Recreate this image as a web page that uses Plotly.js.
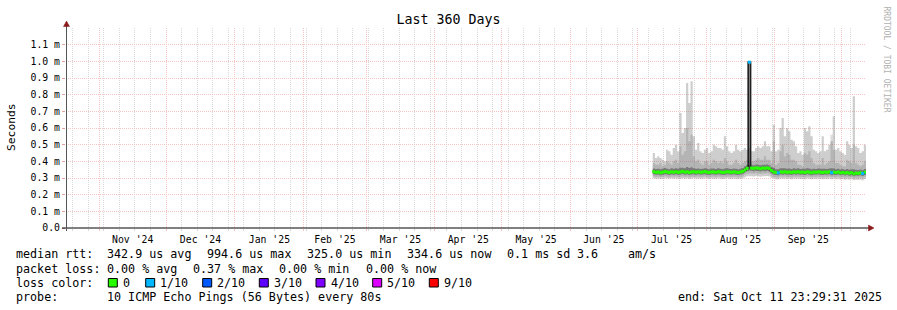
<!DOCTYPE html>
<html><head><meta charset="utf-8">
<script src="https://cdn.plot.ly/plotly-3.0.1.min.js"></script>
<style>html,body{margin:0;padding:0;background:#fff}#chart{width:897px;height:310px}</style>
</head><body><div id="chart"></div>
<script>
// ---------- data (milliseconds) ----------
const rangeStart = '2024-10-16 23:29:31';
const rangeEnd = '2025-10-11 23:29:31';
const firstSampleDay = '2025-07-08';

const medianMs = [
  0.338,0.334,0.336,0.332,0.335,0.339,0.336,0.333,0.337,0.335,
  0.338,0.334,0.336,0.340,0.335,0.337,0.333,0.336,0.338,0.335,
  0.337,0.334,0.336,0.339,0.335,0.333,0.337,0.336,0.334,0.338,
  0.336,0.333,0.335,0.338,0.336,0.334,0.337,0.335,0.333,0.336,0.340,
  0.348,0.358,0.995,0.360,0.357,0.361,0.359,0.356,0.360,0.358,0.361,0.357,
  0.345,0.336,0.333,0.331,0.337,0.335,0.338,0.334,0.336,0.333,0.337,
  0.335,0.338,0.334,0.336,0.333,0.337,0.335,0.332,0.336,0.334,0.337,
  0.335,0.333,0.336,0.334,0.337,0.332,0.335,0.333,0.336,0.331,0.334,
  0.330,0.333,0.329,0.332,0.325,0.330,0.328,0.331,0.327,0.3346
];
const lossTenths = [
  0,0,0,0,0,0,0,0,0,0, 0,0,0,0,0,0,0,0,0,0, 0,0,0,0,0,0,0,0,0,0,
  0,0,0,0,0,0,0,0,0,0,0, 0,0,1,0,0,0,0,0,0,0,0,0,
  0,0,0,1,0,0,0,0,0,0,0, 0,0,0,0,0,0,0,0,0,0,0,
  0,0,0,0,0,1,0,0,0,0,0, 0,0,0,0,0,0,0,0,1,0
];
const pingMaxMs = [
  0.45,0.42,0.43,0.42,0.41,0.40,0.47,0.46,0.44,0.48,
  0.50,0.46,0.69,0.57,0.60,0.87,0.75,0.88,0.55,0.47,
  0.51,0.46,0.45,0.47,0.48,0.45,0.46,0.50,0.49,0.48,
  0.48,0.47,0.55,0.49,0.46,0.45,0.46,0.50,0.47,0.46,0.47,
  0.48,0.47,0.48,0.46,0.46,0.48,0.49,0.48,0.49,0.52,0.49,0.49,
  0.46,0.62,0.46,0.47,0.60,0.66,0.55,0.60,0.58,0.53,0.52,
  0.49,0.45,0.46,0.44,0.60,0.58,0.61,0.55,0.47,0.46,0.45,
  0.46,0.55,0.46,0.47,0.50,0.52,0.67,0.47,0.48,0.46,0.45,
  0.44,0.52,0.50,0.48,0.79,0.49,0.48,0.45,0.46,0.50
];
const pingP90Ms = [
  0.39,0.38,0.38,0.39,0.37,0.38,0.40,0.39,0.38,0.40,
  0.41,0.39,0.49,0.44,0.46,0.60,0.52,0.56,0.43,0.40,
  0.41,0.39,0.38,0.40,0.40,0.38,0.39,0.41,0.40,0.39,
  0.40,0.39,0.42,0.40,0.38,0.38,0.39,0.41,0.39,0.38,0.39,
  0.40,0.41,0.41,0.40,0.40,0.41,0.42,0.41,0.41,0.43,0.41,0.41,
  0.39,0.52,0.38,0.39,0.46,0.50,0.43,0.45,0.44,0.41,0.41,
  0.40,0.38,0.38,0.37,0.45,0.44,0.46,0.42,0.39,0.38,0.38,
  0.38,0.42,0.38,0.39,0.40,0.56,0.47,0.39,0.39,0.38,0.37,
  0.37,0.41,0.40,0.39,0.50,0.39,0.38,0.37,0.38,0.40
];
const pingP75Ms = [
  0.357,0.354,0.356,0.352,0.355,0.360,0.356,0.353,0.358,0.356,
  0.359,0.355,0.362,0.362,0.358,0.366,0.360,0.364,0.359,0.355,
  0.357,0.354,0.356,0.359,0.356,0.353,0.357,0.357,0.354,0.358,
  0.356,0.353,0.357,0.358,0.356,0.354,0.357,0.355,0.353,0.356,0.360,
  0.370,0.378,0.380,0.380,0.377,0.381,0.379,0.376,0.380,0.379,0.381,0.377,
  0.365,0.362,0.353,0.352,0.358,0.358,0.359,0.355,0.357,0.354,0.358,
  0.355,0.358,0.354,0.356,0.356,0.359,0.357,0.353,0.356,0.354,0.357,
  0.355,0.355,0.356,0.354,0.357,0.358,0.357,0.353,0.356,0.351,0.354,
  0.350,0.354,0.350,0.352,0.352,0.350,0.348,0.351,0.347,0.354
];
const pingP25Ms = [
  0.322,0.319,0.321,0.317,0.320,0.323,0.321,0.318,0.322,0.320,
  0.322,0.319,0.321,0.324,0.320,0.322,0.318,0.321,0.322,0.320,
  0.322,0.319,0.321,0.323,0.320,0.318,0.322,0.321,0.319,0.322,
  0.321,0.318,0.320,0.322,0.321,0.319,0.322,0.320,0.318,0.321,0.324,
  0.334,0.341,0.343,0.343,0.340,0.344,0.342,0.339,0.343,0.341,0.344,0.340,
  0.328,0.321,0.318,0.316,0.322,0.320,0.322,0.319,0.321,0.318,0.322,
  0.320,0.322,0.319,0.321,0.318,0.322,0.320,0.317,0.321,0.319,0.322,
  0.320,0.318,0.321,0.319,0.322,0.317,0.320,0.318,0.321,0.316,0.319,
  0.315,0.318,0.314,0.317,0.311,0.315,0.313,0.316,0.312,0.319
];
const pingP10Ms = [
  0.309,0.306,0.308,0.304,0.307,0.310,0.308,0.305,0.309,0.307,
  0.309,0.306,0.308,0.311,0.307,0.309,0.305,0.308,0.309,0.307,
  0.309,0.306,0.308,0.310,0.307,0.305,0.309,0.308,0.306,0.309,
  0.308,0.305,0.307,0.309,0.308,0.306,0.309,0.307,0.305,0.308,0.311,
  0.320,0.326,0.327,0.327,0.325,0.328,0.326,0.324,0.327,0.326,0.328,0.325,
  0.314,0.308,0.305,0.303,0.309,0.307,0.309,0.306,0.308,0.305,0.309,
  0.307,0.309,0.306,0.308,0.305,0.309,0.307,0.304,0.308,0.306,0.309,
  0.307,0.305,0.308,0.306,0.309,0.304,0.307,0.305,0.308,0.303,0.306,
  0.302,0.305,0.301,0.304,0.298,0.302,0.300,0.303,0.299,0.306
];
const pingMinMs = [
  0.298,0.296,0.297,0.294,0.296,0.299,0.297,0.295,0.298,0.296,
  0.297,0.295,0.296,0.299,0.296,0.298,0.294,0.297,0.298,0.296,
  0.297,0.295,0.296,0.298,0.296,0.294,0.297,0.296,0.295,0.298,
  0.296,0.294,0.296,0.298,0.296,0.295,0.297,0.296,0.294,0.296,0.299,
  0.305,0.310,0.311,0.311,0.309,0.312,0.310,0.308,0.311,0.310,0.312,0.309,
  0.300,0.296,0.293,0.292,0.297,0.295,0.297,0.294,0.296,0.293,0.297,
  0.295,0.297,0.294,0.296,0.293,0.297,0.295,0.292,0.296,0.294,0.297,
  0.295,0.293,0.296,0.294,0.297,0.292,0.295,0.293,0.296,0.291,0.294,
  0.290,0.293,0.289,0.292,0.286,0.290,0.288,0.291,0.287,0.294
];

const yTickVals = [0,0.1,0.2,0.3,0.4,0.5,0.6,0.7,0.8,0.9,1.0,1.1];
const yTickText = ['0.0','0.1 m','0.2 m','0.3 m','0.4 m','0.5 m','0.6 m','0.7 m','0.8 m','0.9 m','1.0 m','1.1 m'];

const lossLevels = [0,1,2,3,4,5,9];
const lossLabels = ['0','1/10','2/10','3/10','4/10','5/10','9/10'];
const lossColors = ['#26ff00','#00b8ff','#0059ff','#5e00ff','#7e00ff','#dd00ff','#ff0000'];

const statsRtt = ['median rtt:','342.9 us avg','994.6 us max','325.0 us min','334.6 us now','0.1 ms sd','3.6','am/s'];
const statsLoss = ['packet loss:','0.00 % avg','0.37 % max','0.00 % min','0.00 % now'];
const probeText = ['probe:','10 ICMP Echo Pings (56 Bytes) every 80s','end: Sat Oct 11 23:29:31 2025'];

// ---------- layout helpers (pixel positions) ----------
const PL = 66, PW = 800, PB = 228, PH = 200;
const px = v => (v - PL) / PW;
const py = v => (PB - v) / PH;

function pad(n){return (n<10?'0':'')+n;}
const sampleDays = medianMs.map((_, i) => {
  const p = firstSampleDay.split('-').map(Number);
  const d = new Date(Date.UTC(p[0], p[1]-1, p[2]+i));
  return d.getUTCFullYear()+'-'+pad(d.getUTCMonth()+1)+'-'+pad(d.getUTCDate());
});
const stepX = sampleDays.concat([rangeEnd]);
const stepY = arr => arr.concat([arr[arr.length-1]]);

const traces = [];
function band(lo, hi, fill){
  traces.push({x: stepX, y: stepY(lo), mode:'lines', line:{shape:'hv', width:0}, hoverinfo:'skip'});
  traces.push({x: stepX, y: stepY(hi), mode:'lines', line:{shape:'hv', width:0}, fill:'tonexty', fillcolor: fill, hoverinfo:'skip'});
}
band(pingMinMs, pingMaxMs, 'rgba(120,120,120,0.36)');
band(pingP10Ms, pingP90Ms, 'rgba(90,90,90,0.22)');
band(pingP25Ms, pingP75Ms, 'rgba(30,30,30,0.38)');
traces.push({x: stepX, y: stepY(medianMs), mode:'lines', line:{shape:'hv', color:'#202020', width:1.8}, hoverinfo:'skip'});
lossLevels.forEach((lv, k) => {
  const xs = [], ys = [];
  lossTenths.forEach((l, i) => { if (l === lv) { xs.push(sampleDays[i] + ' 12:00'); ys.push(medianMs[i]); } });
  if (xs.length) traces.push({x: xs, y: ys, mode:'markers', marker:{symbol:'line-ew', size:2.2, color: lossColors[k], line:{width:3, color: lossColors[k]}}, hoverinfo:'skip'});
});

const mono = 'DejaVu Sans Mono';
const legendFont = {family: mono, size: 11.7, color: '#000'};
const annotations = [];
function txt(x, y, s, extra){
  annotations.push(Object.assign({xref:'paper', yref:'paper', x: px(x), y: py(y), text: s, showarrow:false,
    xanchor:'left', yanchor:'middle', font: legendFont, borderpad:0, borderwidth:0}, extra||{}));
}
const rttX = [16,107.3,207,307.3,407.3,507.3,577.3,628.3];
statsRtt.forEach((s,i) => txt(rttX[i], 254.3, s));
const lossX = [16,107.3,193.3,279.3,365.7];
statsLoss.forEach((s,i) => txt(lossX[i], 268.7, s));
txt(16, 282.7, 'loss color:');
const boxX = [108.3,145.7,202.7,259.3,316,372.7,429.3];
const labX = [122.7,160,217,274,330.7,387.3,444];
const shapes = [];
lossLabels.forEach((s,i) => {
  txt(labX[i], 282.7, s);
  shapes.push({type:'rect', xref:'paper', yref:'paper', x0: px(boxX[i]), x1: px(boxX[i]+9), y0: py(287), y1: py(278.5),
    fillcolor: lossColors[i], line:{color:'#000', width:1}});
});
txt(16, 296.7, probeText[0]);
txt(107.3, 296.7, probeText[1]);
txt(678.3, 296.7, probeText[2]);

annotations.push({xref:'paper', yref:'paper', x: px(11), y: py(127), text:'Seconds', textangle:-90, showarrow:false,
  xanchor:'center', yanchor:'middle', font:{family: mono, size: 11.3, color:'#000'}, borderpad:0, borderwidth:0});
annotations.push({xref:'paper', yref:'paper', x: px(886.5), y: py(59), text:'RRDTOOL / TOBI OETIKER', textangle:90, showarrow:false,
  xanchor:'center', yanchor:'middle', font:{family: mono, size: 8, color:'#b0b0b0'}, borderpad:0, borderwidth:0});

// axis lines and arrows
shapes.push({type:'line', xref:'paper', yref:'paper', x0: px(62), x1: px(870), y0: 0, y1: 0, line:{color:'#000', width:1}});
shapes.push({type:'line', xref:'paper', yref:'paper', x0: px(66.5), x1: px(66.5), y0: py(231), y1: py(25), line:{color:'#555', width:1}});
shapes.push({type:'path', xref:'paper', yref:'paper',
  path: `M ${px(66.5)},${py(21)} L ${px(63.5)},${py(26.5)} L ${px(69.5)},${py(26.5)} Z`, fillcolor:'#8b1a1a', line:{color:'#8b1a1a', width:0.5}});
shapes.push({type:'path', xref:'paper', yref:'paper',
  path: `M ${px(874)},${py(228)} L ${px(868.5)},${py(225)} L ${px(868.5)},${py(231)} Z`, fillcolor:'#8b1a1a', line:{color:'#8b1a1a', width:0.5}});

const grid = '#f7c4c4';
const layout = {
  width: 897, height: 310,
  margin: {l: PL, r: 897 - PL - PW, t: PB - PH, b: 310 - PB, pad: 0},
  paper_bgcolor: '#fff', plot_bgcolor: '#fff',
  showlegend: false,
  font: {family: mono, color: '#000', size: 10},
  title: {text: 'Last 360 Days', font: {family: mono, size: 13.3, color: '#000'},
    x: 0.5, xref: 'container', xanchor: 'center', y: 1 - 19/310, yref: 'container', yanchor: 'middle'},
  xaxis: {type: 'date', range: [rangeStart, rangeEnd], dtick: 'M1', tick0: '2024-11-01', tickformat: "%b '%y",
    ticklabelmode: 'period', showgrid: true, gridcolor: grid, griddash: '1px,1px', gridwidth: 1,
    ticks: 'outside', ticklen: 2, tickcolor: grid, showline: false, zeroline: false,
    tickfont: {family: mono, size: 9.8, color: '#000'}, fixedrange: true,
    minor: {dtick: 604800000, tick0: '2024-10-20', showgrid: true, gridcolor: '#d9d9d9', griddash: '1px,1px',
      ticks: 'outside', ticklen: 2, tickcolor: '#d9d9d9'}},
  yaxis: {range: [0, 1.2], tickmode: 'array', tickvals: yTickVals, ticktext: yTickText, showgrid: true,
    gridcolor: grid, griddash: '1px,1px', ticks: 'outside', ticklen: 3, tickcolor: '#e8a0a0',
    zeroline: false, showline: false, tickfont: {family: mono, size: 9.8, color: '#000'}, fixedrange: true},
  shapes: shapes,
  annotations: annotations
};
Plotly.newPlot('chart', traces, layout, {displayModeBar: false, staticPlot: true});
</script>
</body></html>
